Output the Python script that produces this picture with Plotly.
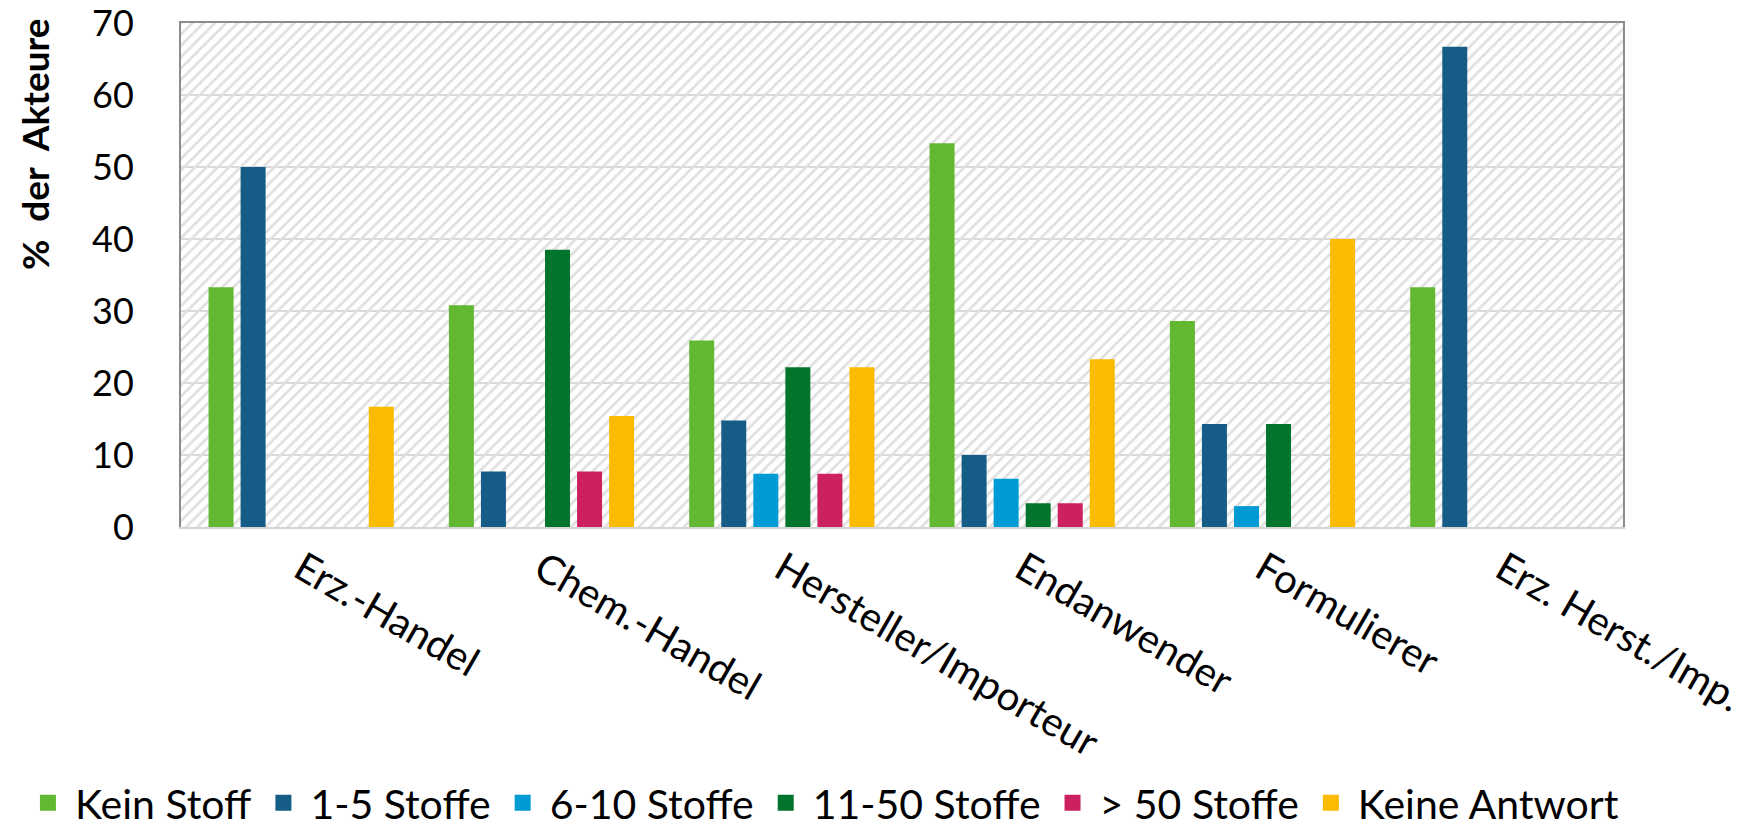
import plotly.graph_objects as go

categories = ["Erz.-Handel", "Chem.-Handel", "Hersteller/Importeur",
              "Endanwender", "Formulierer", "Erz. Herst./Imp."]

kein_stoff = [33.3, 30.8, 25.9, 53.3, 28.6, 33.3]
stoffe_1_5 = [50.0, 7.7, 14.8, 10.0, 14.3, 66.7]
stoffe_6_10 = [0, 0, 7.4, 6.7, 2.9, 0]
stoffe_11_50 = [0, 38.5, 22.2, 3.3, 14.3, 0]
stoffe_ueber_50 = [0, 7.7, 7.4, 3.3, 0, 0]
keine_antwort = [16.7, 15.4, 22.2, 23.3, 40.0, 0]

series_names = ["Kein Stoff", "1-5 Stoffe", "6-10 Stoffe", "11-50 Stoffe", "> 50 Stoffe", "Keine Antwort"]
series_values = [kein_stoff, stoffe_1_5, stoffe_6_10, stoffe_11_50, stoffe_ueber_50, keine_antwort]
colors = ["#63b832", "#155c86", "#009bd5", "#00752b", "#cc2060", "#fbbb00"]

y_max = 70
y_ticks = [0, 10, 20, 30, 40, 50, 60, 70]

fig = go.Figure()

# hatched plot background (drawn on the hidden main x axis, below the bars)
fig.add_trace(go.Bar(
    x=[0.5], y=[y_max], width=[1], xaxis="x", yaxis="y",
    marker=dict(color="rgba(0,0,0,0)", line_width=0,
                pattern=dict(shape="/", fgcolor="#e0e0e0", bgcolor="rgba(0,0,0,0)",
                             size=8, solidity=0.35, fillmode="replace")),
    showlegend=False, hoverinfo="skip",
))

for name, vals, col in zip(series_names, series_values, colors):
    fig.add_trace(go.Bar(
        x=categories, y=vals, name=name, xaxis="x2", yaxis="y",
        marker=dict(color=col, line_width=0),
        legendgroup=name, showlegend=False,
    ))
    # legend entry with a bigger square swatch
    fig.add_trace(go.Scatter(
        x=[None], y=[None], mode="markers", name=name, xaxis="x2", yaxis="y",
        marker=dict(symbol="square", size=16, color=col),
        legendgroup=name, hoverinfo="skip",
    ))

font = "Lato, 'Open Sans', sans-serif"

# the page puts the figure 8 px in from the top-left corner
fig.update_layout(
    width=1736, height=815,
    margin=dict(l=173, r=121, t=15, b=296, autoexpand=False),
    paper_bgcolor="white", plot_bgcolor="white",
    font=dict(family=font, size=36, color="black"),
    barmode="group", bargap=0.2, bargroupgap=0.22,
    xaxis=dict(range=[0, 1], showgrid=False, zeroline=False, showticklabels=False,
               showline=True, side="top", linecolor="#8c8c8c", linewidth=2,
               fixedrange=True, automargin=False),
    xaxis2=dict(overlaying="x", anchor="y", side="bottom", type="category",
                categoryorder="array", categoryarray=categories,
                showgrid=False, zeroline=False, automargin=False,
                showline=True, linecolor="#d4d4d4", linewidth=2,
                ticks="outside", ticklen=1, tickcolor="rgba(0,0,0,0)",
                tickangle=30, tickfont=dict(size=40)),
    yaxis=dict(range=[0, y_max + 0.001], tickvals=y_ticks, showgrid=True, gridcolor="#d9d9d9",
               gridwidth=2, zeroline=False, showline=True, mirror=True,
               linecolor="#8c8c8c", linewidth=2, automargin=False,
               ticks="outside", ticklen=38, tickcolor="rgba(0,0,0,0)",
               tickfont=dict(size=36), ticklabeloverflow="allow"),
    legend=dict(orientation="h", x=-0.111, xanchor="left", y=-0.5476, yanchor="middle",
                font=dict(size=41), traceorder="normal", itemwidth=44),
    annotations=[dict(text="<b>%  der  Akteure</b>", textangle=-90,
                      xref="paper", yref="paper", x=0, y=0.76,
                      xshift=-146, xanchor="center", yanchor="middle",
                      showarrow=False, font=dict(size=37, family=font))],
)

fig.write_html("out.html")
